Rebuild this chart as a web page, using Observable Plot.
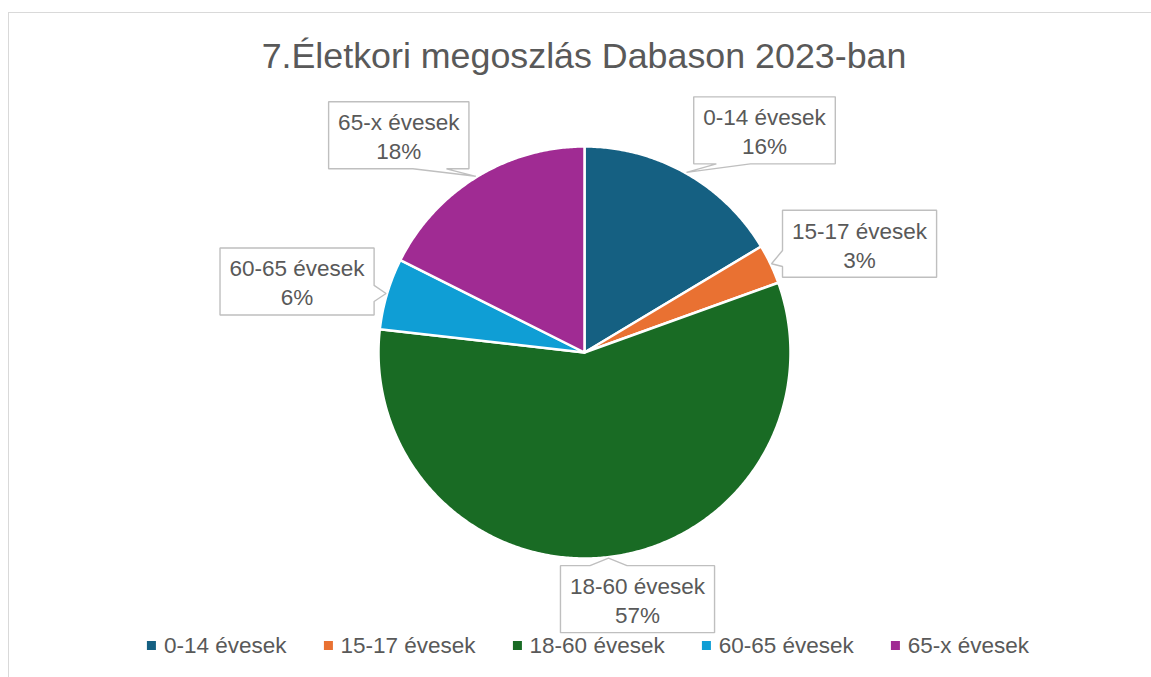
<!DOCTYPE html>
<html><head><meta charset="utf-8">
<script src="https://cdn.jsdelivr.net/npm/d3@7"></script>
<script src="https://cdn.jsdelivr.net/npm/@observablehq/plot@0.6"></script>
<style>
html,body{margin:0;padding:0;background:#fff;overflow:hidden;width:1151px;height:677px;}
body{font-family:"Liberation Sans",Arial,sans-serif;color:#595959;position:relative;}
#frame{position:absolute;left:8px;top:12px;width:1200px;height:700px;border-left:1px solid #d9d9d9;border-top:1px solid #d9d9d9;}
#title{position:absolute;top:36px;left:584px;transform:translateX(-50%);white-space:nowrap;font-size:35.8px;line-height:40px;}
#chart{position:absolute;left:0;top:80px;}
#legend{position:absolute;top:634.5px;left:588px;transform:translateX(-50%);display:flex;gap:37px;white-space:nowrap;font-size:22.5px;line-height:22px;}
.item{display:flex;align-items:center;}
.sw{width:9px;height:9px;margin-right:8px;}
</style></head><body>
<div id="frame"></div>
<div id="title"></div>
<div id="chart"></div>
<div id="legend"></div>
<script>
// ---- data ----
const title = "7.Életkori megoszlás Dabason 2023-ban";
const categories = ["0-14 évesek", "15-17 évesek", "18-60 évesek", "60-65 évesek", "65-x évesek"];
const shares = [16.4, 3.1, 57.3, 5.6, 17.6];
const colors = ["#156082", "#E97132", "#196B24", "#0F9ED5", "#A02B93"];
// label box offsets (px, from the callout tip) - layout only
const labelOffsets = [[78, -42], [88, -20], [29, 41], [-89, -12], [-77, -41]];

// ---- layout ----
const W = 1151, svgTop = 80, H = 554, cx = 584, cy = 352, R = 206;
const FONT = '"Liberation Sans", Arial, sans-serif';
const LABEL_SIZE = 22.5;
const textColor = "#595959";
const toUnit = (px, py) => ({x: (px - cx) / R, y: (cy - py) / R});

document.getElementById("title").textContent = title;

// ---- slices ----
const arcs = d3.pie().sort(null).value(d => d)(shares);
const slicePts = [];
arcs.forEach((a, i) => {
  const cat = categories[i];
  slicePts.push({cat, x: 0, y: 0});
  const n = Math.max(2, Math.ceil((a.endAngle - a.startAngle) / (Math.PI / 360)));
  for (let k = 0; k <= n; k++) {
    const t = a.startAngle + (a.endAngle - a.startAngle) * k / n;
    slicePts.push({cat, x: Math.sin(t), y: Math.cos(t)});
  }
});

// ---- callouts ----
const ctx = document.createElement("canvas").getContext("2d");
ctx.font = `${LABEL_SIZE}px ${FONT}`;
const boxPts = [];
const labels = [];
arcs.forEach((a, i) => {
  const m = (a.startAngle + a.endAngle) / 2;
  const tip = {x: cx + R * 1.005 * Math.sin(m), y: cy - R * 1.005 * Math.cos(m)};
  const l1 = categories[i], l2 = Math.round(shares[i]) + "%";
  const tw = Math.max(ctx.measureText(l1).width, ctx.measureText(l2).width);
  const bw = tw + 19, bh = 67;
  const bcx = tip.x + labelOffsets[i][0], bcy = tip.y + labelOffsets[i][1];
  const L = bcx - bw / 2, Rt = bcx + bw / 2, T = bcy - bh / 2, B = bcy + bh / 2;
  let side;
  if (tip.y >= T && tip.y <= B) side = tip.x < L ? "left" : "right";
  else side = tip.y < T ? "top" : "bottom";
  const horiz = side === "top" || side === "bottom";
  const len = horiz ? bw : bh;
  const s0 = horiz ? L : T, s1 = horiz ? Rt : B;
  const hw = 0.12 * len, pad = 0.16 * len;
  const c = Math.min(Math.max(horiz ? tip.x : tip.y, s0 + pad + hw), s1 - pad - hw);
  const b1 = c - hw, b2 = c + hw;
  const pts = [[L, T]];
  if (side === "top") pts.push([b1, T], [tip.x, tip.y], [b2, T]);
  pts.push([Rt, T]);
  if (side === "right") pts.push([Rt, b1], [tip.x, tip.y], [Rt, b2]);
  pts.push([Rt, B]);
  if (side === "bottom") pts.push([b2, B], [tip.x, tip.y], [b1, B]);
  pts.push([L, B]);
  if (side === "left") pts.push([L, b2], [tip.x, tip.y], [L, b1]);
  pts.forEach(([px, py]) => boxPts.push({id: i, ...toUnit(px, py)}));
  labels.push({text: l1 + "\n" + l2, ...toUnit(bcx, bcy)});
});

const plot = Plot.plot({
  width: W, height: H,
  marginTop: 0, marginRight: 0, marginBottom: 0, marginLeft: 0,
  x: {domain: [(0 - cx) / R, (W - cx) / R], range: [0, W], axis: null},
  y: {domain: [(cy - (svgTop + H)) / R, (cy - svgTop) / R], range: [H, 0], axis: null},
  color: {domain: categories, range: colors},
  style: {fontFamily: FONT, overflow: "visible", background: "transparent"},
  marks: [
    Plot.line(slicePts, {x: "x", y: "y", z: "cat", fill: "cat", stroke: "white", strokeWidth: 2.5, strokeLinejoin: "round", curve: "linear-closed"}),
    Plot.line(boxPts, {x: "x", y: "y", z: "id", fill: "white", stroke: "#bfbfbf", strokeWidth: 1.4, strokeLinejoin: "miter", curve: "linear-closed"}),
    Plot.text(labels, {x: "x", y: "y", text: "text", fontSize: LABEL_SIZE, lineHeight: 29 / LABEL_SIZE, fill: textColor, fontFamily: FONT})
  ]
});
document.getElementById("chart").appendChild(plot);

// ---- legend ----
const legend = document.getElementById("legend");
categories.forEach((c, i) => {
  const it = document.createElement("div");
  it.className = "item";
  const sw = document.createElement("span");
  sw.className = "sw";
  sw.style.background = colors[i];
  const tx = document.createElement("span");
  tx.textContent = c;
  it.appendChild(sw); it.appendChild(tx);
  legend.appendChild(it);
});
</script>
</body></html>
